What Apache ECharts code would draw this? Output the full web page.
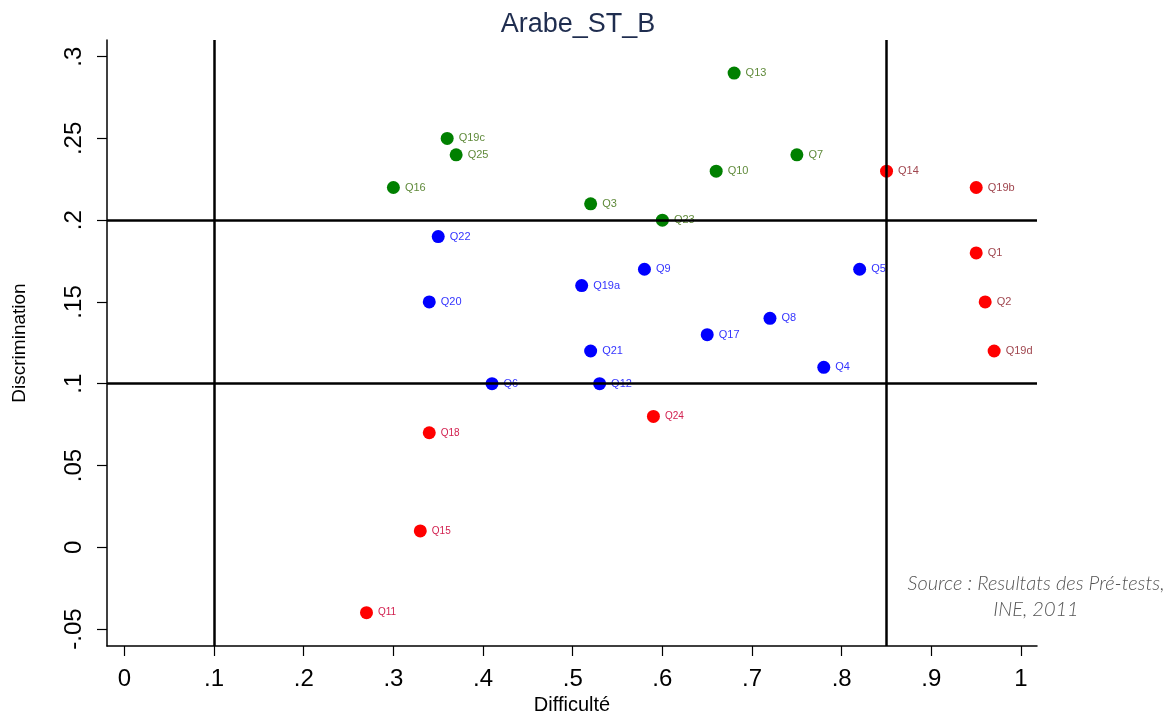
<!DOCTYPE html>
<html lang="fr">
<head>
    <meta charset="UTF-8">
    <title>Arabe_ST_B</title>
    <script src="https://cdn.jsdelivr.net/npm/echarts@6/dist/echarts.min.js"></script>
    <style>
        html, body { margin: 0; padding: 0; background: #fff; }
        #chart { width: 1171px; height: 713px; }
    </style>
</head>
<body>
    <div id="chart"></div>
    <script>
        // items : [difficulte, discrimination, libelle]
        var bonItems = [
            [0.68, 0.29, 'Q13'], [0.36, 0.25, 'Q19c'], [0.37, 0.24, 'Q25'], [0.75, 0.24, 'Q7'],
            [0.66, 0.23, 'Q10'], [0.30, 0.22, 'Q16'], [0.52, 0.21, 'Q3'], [0.60, 0.20, 'Q23']
        ];
        var moyenItems = [
            [0.35, 0.19, 'Q22'], [0.58, 0.17, 'Q9'], [0.82, 0.17, 'Q5'], [0.51, 0.16, 'Q19a'],
            [0.34, 0.15, 'Q20'], [0.72, 0.14, 'Q8'], [0.65, 0.13, 'Q17'], [0.52, 0.12, 'Q21'],
            [0.78, 0.11, 'Q4'], [0.41, 0.10, 'Q6'], [0.53, 0.10, 'Q12']
        ];
        var facileItems = [
            [0.85, 0.23, 'Q14'], [0.95, 0.22, 'Q19b'], [0.95, 0.18, 'Q1'],
            [0.96, 0.15, 'Q2'], [0.97, 0.12, 'Q19d']
        ];
        var faibleItems = [
            [0.59, 0.08, 'Q24'], [0.34, 0.07, 'Q18'], [0.33, 0.01, 'Q15'], [0.27, -0.04, 'Q11']
        ];
        var ticksX = [0, 0.1, 0.2, 0.3, 0.4, 0.5, 0.6, 0.7, 0.8, 0.9, 1];
        var ticksY = [-0.05, 0, 0.05, 0.1, 0.15, 0.2, 0.25, 0.3];
        var seuilsX = [0.1, 0.85];
        var seuilsY = [0.1, 0.2];

        function fmt(v) {
            if (v === 0) return '0';
            if (v === 1) return '1';
            var s = String(Math.round(v * 100) / 100);
            return s.replace('0.', '.');
        }

        function serie(data, color, labelColor, fontSize) {
            return {
                type: 'scatter',
                data: data,
                symbolSize: 13,
                itemStyle: { color: color, opacity: 1 },
                label: {
                    show: true,
                    position: 'right',
                    distance: 5,
                    color: labelColor,
                    fontSize: fontSize,
                    fontFamily: 'Liberation Sans',
                    formatter: function (p) { return p.data[2]; }
                },
                emphasis: { disabled: true }
            };
        }

        var myChart = echarts.init(document.getElementById('chart'));
        var axisFont = { fontFamily: 'Liberation Sans', fontSize: 24, color: '#000' };

        var lignes = serie([], '#000', '#000', 10);
        lignes.markLine = {
            silent: true,
            symbol: 'none',
            label: { show: false },
            lineStyle: { color: '#000', width: 2.5, type: 'solid' },
            data: seuilsX.map(function (v) { return { xAxis: v }; })
                .concat(seuilsY.map(function (v) { return { yAxis: v }; }))
        };

        var option = {
            animation: false,
            title: {
                text: 'Arabe_ST_B',
                left: 573,
                top: 6,
                textAlign: 'center',
                textStyle: { fontFamily: 'Liberation Sans', fontSize: 27, fontWeight: 'normal', color: '#1f2d4f' }
            },
            grid: { left: 107, right: 134, top: 40, bottom: 67, containLabel: false, outerBoundsMode: 'none' },
            xAxis: {
                type: 'value',
                min: -0.0194,
                max: 1.0178,
                name: 'Difficulté',
                nameLocation: 'middle',
                nameGap: 48,
                nameTextStyle: { fontFamily: 'Liberation Sans', fontSize: 20, color: '#000' },
                axisLine: { onZero: false, lineStyle: { color: '#000', width: 1.5 } },
                axisTick: { show: true, length: 10, lineStyle: { color: '#000', width: 1.2 }, customValues: ticksX },
                axisLabel: Object.assign({ margin: 21, formatter: fmt, customValues: ticksX }, axisFont),
                splitLine: { show: false }
            },
            yAxis: {
                type: 'value',
                min: -0.0604,
                max: 0.3102,
                name: 'Discrimination',
                nameLocation: 'middle',
                nameGap: 78,
                nameTextStyle: { fontFamily: 'Liberation Sans', fontSize: 19, color: '#000' },
                axisLine: { show: true, onZero: false, lineStyle: { color: '#000', width: 1.5 } },
                axisTick: { show: true, length: 10, lineStyle: { color: '#000', width: 1.2 }, customValues: ticksY },
                axisLabel: Object.assign({ rotate: 90, margin: 21, formatter: fmt, customValues: ticksY }, axisFont),
                splitLine: { show: false }
            },
            graphic: [{
                type: 'text',
                x: 1036,
                y: 571,
                style: {
                    text: 'Source : Resultats des Pré-tests,\nINE, 2011',
                    textAlign: 'center',
                    align: 'center',
                    fontFamily: 'Lato',
                    fontStyle: 'italic',
                    fontWeight: 300,
                    fontSize: 20,
                    lineHeight: 26,
                    fill: '#555'
                }
            }],
            series: [
                lignes,
                serie(bonItems, '#008000', '#5f8a3a', 11),
                serie(moyenItems, '#0000ff', '#3434ff', 11),
                serie(facileItems, '#ff0000', '#a0464f', 11),
                serie(faibleItems, '#ff0000', '#d2204f', 10)
            ]
        };

        myChart.setOption(option);
    </script>
</body>
</html>
